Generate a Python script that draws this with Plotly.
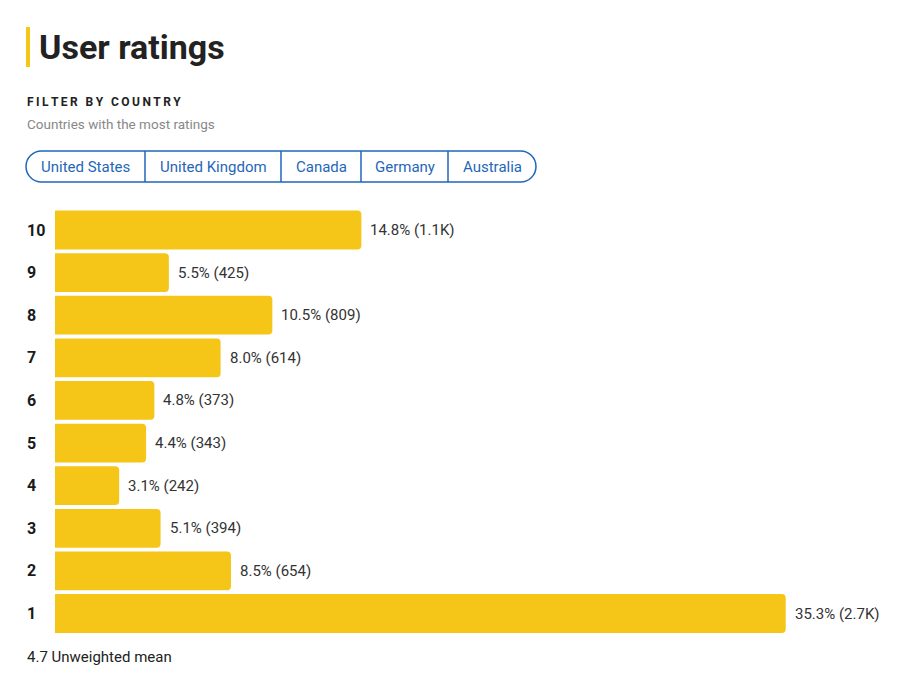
import plotly.graph_objects as go

W, H = 900, 685
OFF = 8  # page body margin offset

ratings = ["10", "9", "8", "7", "6", "5", "4", "3", "2", "1"]
percents = [14.8, 5.5, 10.5, 8.0, 4.8, 4.4, 3.1, 5.1, 8.5, 35.3]
counts = ["1.1K", "425", "809", "614", "373", "343", "242", "394", "654", "2.7K"]
countries = ["United States", "United Kingdom", "Canada", "Germany", "Australia"]
mean_value = 4.7

YELLOW = "#F5C518"
BLUE = "#1F67B8"
FONT = "Roboto"


def px(x):
    return (x - OFF) / W


def py(y):
    return 1 - (y - OFF) / H


cat_order = ratings[::-1]  # bottom to top

fig = go.Figure()
fig.add_trace(go.Bar(
    y=ratings, x=percents, orientation="h",
    marker=dict(color=YELLOW, line=dict(width=0)),
    hoverinfo="skip",
))

annotations = []
shapes = []

# value labels and rating labels (category axis annotations use serial index)
for r, p, c in zip(ratings, percents, counts):
    idx = cat_order.index(r)
    annotations.append(dict(
        x=p, y=idx, xref="x", yref="y", text=f"{p:.1f}% ({c})",
        xanchor="left", yanchor="middle", xshift=7, showarrow=False,
        font=dict(family=FONT, size=15, color="#333333"),
    ))
    annotations.append(dict(
        x=px(25), y=idx, xref="paper", yref="y", text=f"<b>{r}</b>",
        xanchor="left", yanchor="middle", showarrow=False,
        font=dict(family=FONT, size=16, color="#1a1a1a"),
    ))

# title
shapes.append(dict(type="line", xref="paper", yref="paper",
                   x0=px(28), x1=px(28), y0=py(27), y1=py(67),
                   line=dict(color=YELLOW, width=4)))
annotations.append(dict(x=px(37), y=py(47), xref="paper", yref="paper",
                        text="<b>User ratings</b>", xanchor="left", yanchor="middle",
                        showarrow=False, font=dict(family=FONT, size=34, color="#222222")))

thin = "\u2009"
filt = "FILTER BY COUNTRY"
spaced = thin.join(list(filt))
annotations.append(dict(x=px(25), y=py(102), xref="paper", yref="paper",
                        text=f"<b>{spaced}</b>", xanchor="left", yanchor="middle",
                        showarrow=False, font=dict(family=FONT, size=12, color="#222222")))
annotations.append(dict(x=px(25), y=py(124), xref="paper", yref="paper",
                        text="Countries with the most ratings", xanchor="left", yanchor="middle",
                        showarrow=False, font=dict(family=FONT, size=13.5, color="#888888")))

# segmented buttons
bx0, bx1, by0, by1 = 26, 536, 151, 182
rad = (by1 - by0) / 2
k = 0.5523 * rad
path = (
    f"M {px(bx0 + rad)} {py(by0)} L {px(bx1 - rad)} {py(by0)} "
    f"C {px(bx1 - rad + k)} {py(by0)} {px(bx1)} {py(by0 + rad - k)} {px(bx1)} {py(by0 + rad)} "
    f"C {px(bx1)} {py(by0 + rad + k)} {px(bx1 - rad + k)} {py(by1)} {px(bx1 - rad)} {py(by1)} "
    f"L {px(bx0 + rad)} {py(by1)} "
    f"C {px(bx0 + rad - k)} {py(by1)} {px(bx0)} {py(by1 - rad + k)} {px(bx0)} {py(by1 - rad)} "
    f"C {px(bx0)} {py(by0 + rad - k)} {px(bx0 + rad - k)} {py(by0)} {px(bx0 + rad)} {py(by0)} Z"
)
shapes.append(dict(type="path", xref="paper", yref="paper", path=path,
                   line=dict(color=BLUE, width=1.5)))
edges = [bx0, 145, 281, 361, 448, bx1]
for i, name in enumerate(countries):
    if 0 < i:
        shapes.append(dict(type="line", xref="paper", yref="paper",
                           x0=px(edges[i]), x1=px(edges[i]), y0=py(by0), y1=py(by1),
                           line=dict(color=BLUE, width=1.5)))
    cx = (edges[i] + edges[i + 1]) / 2
    annotations.append(dict(x=px(cx), y=py((by0 + by1) / 2), xref="paper", yref="paper",
                            text=name, xanchor="center", yanchor="middle", showarrow=False,
                            font=dict(family=FONT, size=15, color=BLUE)))

annotations.append(dict(x=px(25), y=py(657), xref="paper", yref="paper",
                        text=f"{mean_value} Unweighted mean", xanchor="left", yanchor="middle",
                        showarrow=False, font=dict(family=FONT, size=15, color="#222222")))

x_start = 55
fig.update_layout(
    width=W, height=H,
    margin=dict(l=0, r=0, t=0, b=0),
    paper_bgcolor="white", plot_bgcolor="white",
    showlegend=False,
    bargap=0.09,
    barcornerradius=4,
    xaxis=dict(domain=[px(x_start), 1], range=[0, (W + OFF - x_start) / 20.7],
               visible=False, fixedrange=True),
    yaxis=dict(type="category", domain=[py(634.8), py(208.7)], categoryorder="array",
               categoryarray=cat_order, range=[-0.5, len(cat_order) - 0.5],
               showticklabels=False, showgrid=False,
               zeroline=False, fixedrange=True),
    annotations=annotations,
    shapes=shapes,
)

fig.write_html("out.html", config={"displayModeBar": False})
